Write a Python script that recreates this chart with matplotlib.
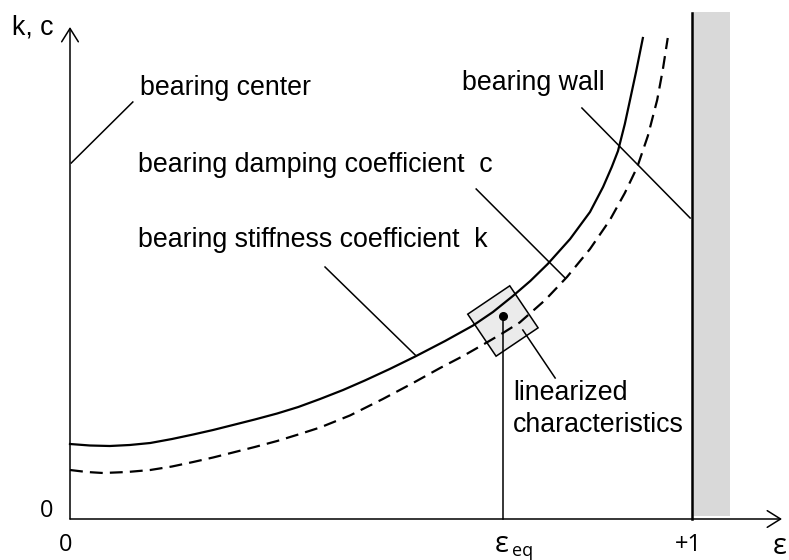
import numpy as np
import matplotlib
matplotlib.use("Agg")
import matplotlib.pyplot as plt
from matplotlib.patches import Rectangle
from matplotlib.transforms import Affine2D, ScaledTranslation

# stiffness coefficient k (solid)
eps_k = [0.000, 0.032, 0.064, 0.096, 0.129, 0.164, 0.198, 0.230, 0.262, 0.297,
         0.333, 0.367, 0.402, 0.439, 0.474, 0.514, 0.555, 0.603, 0.648, 0.680,
         0.712, 0.740, 0.768, 0.804, 0.836, 0.857, 0.871, 0.881, 0.892, 0.900,
         0.910, 0.921]
k_vals = [0.75, 0.735, 0.73, 0.74, 0.76, 0.80, 0.845, 0.89, 0.94, 0.995,
          1.055, 1.12, 1.20, 1.29, 1.385, 1.50, 1.625, 1.78, 1.935, 2.07,
          2.23, 2.38, 2.55, 2.80, 3.07, 3.32, 3.52, 3.68, 3.95, 4.18,
          4.47, 4.81]

# damping coefficient c (dashed)
eps_c = [0.000, 0.027, 0.053, 0.092, 0.129, 0.164, 0.198, 0.230, 0.262, 0.297,
         0.333, 0.367, 0.402, 0.450, 0.503, 0.550, 0.595, 0.632, 0.670, 0.696,
         0.723, 0.764, 0.799, 0.836, 0.868, 0.892, 0.912, 0.929, 0.944, 0.953,
         0.961]
c_vals = [0.49, 0.47, 0.46, 0.47, 0.49, 0.525, 0.57, 0.615, 0.665, 0.72,
          0.78, 0.845, 0.915, 1.035, 1.20, 1.355, 1.51, 1.63, 1.765, 1.86,
          1.965, 2.19, 2.42, 2.70, 2.99, 3.26, 3.52, 3.83, 4.19, 4.49,
          4.81]

eps_eq = 0.696
val_eq = 2.03
wall_eps = 1.0
wall_width = 0.061
y_top = 4.92

x_ticks = [0.0, wall_eps]
x_ticklabels = ["0", "+1"]

TXT = "Liberation Sans"
NUM = ["Open Sans", "DejaVu Sans"]
FS = 19.3

fig = plt.figure(figsize=(7.89, 5.60), dpi=100)
ax = fig.add_axes([0, 0, 1, 1])
ax.set_xlim(-70 / 622, 719 / 622)
ax.set_ylim(-0.41, 5.19)
ax.axis("off")

# bearing wall
ax.add_patch(Rectangle((wall_eps, 0.03), wall_width, 5.04, facecolor="#d9d9d9",
                       edgecolor="none", zorder=1))
ax.plot([wall_eps, wall_eps], [0, 5.06], color="black", lw=1.8, zorder=3)

# axes with open arrow heads
arrow = dict(arrowstyle="->,head_length=0.4,head_width=0.25", lw=1.1,
             color="black", mutation_scale=24, shrinkA=0, shrinkB=0)
ax.annotate("", xy=(0, y_top), xytext=(0, 0), arrowprops=arrow)
ax.annotate("", xy=(712 / 622, 0), xytext=(0, 0), arrowprops=arrow)

# curves
ax.plot(eps_k, k_vals, color="black", lw=1.6, zorder=3)
ax.plot(eps_c, c_vals, color="black", lw=1.6, ls=(0, (5.8, 3.2)), zorder=3)

# linearized characteristics box around operating point
box_t = (Affine2D().rotate_deg(34).scale(fig.dpi / 72)
         + ScaledTranslation(eps_eq, 1.98, ax.transData))
s = 36.5
ax.add_patch(Rectangle((-s / 2, -s / 2), s, s, transform=box_t,
                       facecolor="#ebebeb", edgecolor="black", lw=1.1, zorder=2))
ax.plot([eps_eq, eps_eq], [0, val_eq], color="black", lw=1.1, zorder=4)
ax.plot([eps_eq], [val_eq], "o", color="black", ms=5.5, zorder=5)

# leader lines
leaders = [
    ((0.002, 3.56), (0.101, 4.17)),
    ((0.823, 4.11), (0.997, 3.01)),
    ((0.653, 3.30), (0.796, 2.41)),
    ((0.410, 2.52), (0.555, 1.64)),
    ((0.728, 1.89), (0.780, 1.41)),
]
for (x0, y0), (x1, y1) in leaders:
    ax.plot([x0, x1], [y0, y1], color="black", lw=1.1, zorder=4)

# labels
ax.text(-58 / 622, 4.92, "k, c", family=TXT, fontsize=FS, ha="left", va="center")
ax.text(70 / 622, 4.31, "bearing center", family=TXT, fontsize=FS, ha="left", va="center")
ax.text(392 / 622, 4.36, "bearing wall", family=TXT, fontsize=FS, ha="left", va="center")
ax.text(68 / 622, 3.54, "bearing damping coefficient  c", family=TXT, fontsize=FS,
        ha="left", va="center")
ax.text(68 / 622, 2.79, "bearing stiffness coefficient  k", family=TXT, fontsize=FS,
        ha="left", va="center")
ax.text(443 / 622, 1.26, "linearized", family=TXT, fontsize=FS, ha="left", va="center")
ax.text(443 / 622, 0.94, "characteristics", family=TXT, fontsize=FS, ha="left", va="center")

# tick labels
ax.text(-23 / 622, 0.08, "0", family=NUM, fontsize=17, ha="center", va="center")
for xv, lab in zip(x_ticks, x_ticklabels):
    ax.text(xv - 4 / 622, -0.26, lab, family=NUM, fontsize=17, ha="center", va="center")
ax.text(eps_eq - 8 / 622, -0.25, "ε", family=NUM, fontsize=21, ha="left", va="center")
ax.text(eps_eq + 9 / 622, -0.32, "eq", family=NUM, fontsize=13, ha="left", va="center")
ax.text(703 / 622, -0.27, "ε", family=NUM, fontsize=21, ha="left", va="center")

fig.savefig("out.png", dpi=100)
